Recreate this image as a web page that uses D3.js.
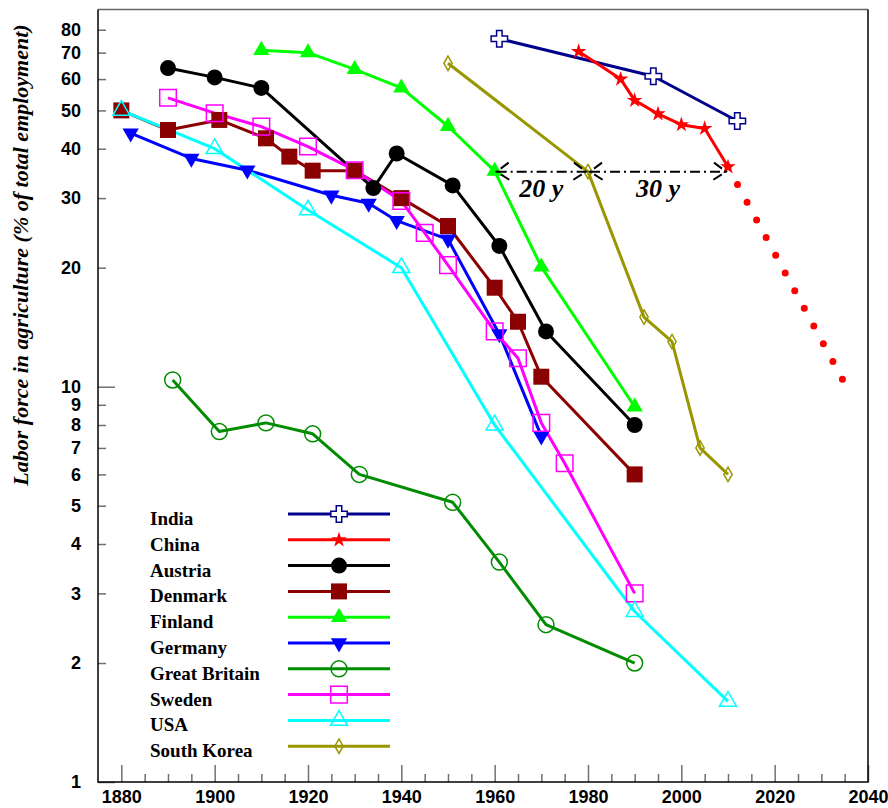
<!DOCTYPE html>
<html>
<head>
<meta charset="utf-8">
<script src="https://d3js.org/d3.v7.min.js"></script>
<style>
  html, body { margin: 0; padding: 0; background: #fff; }
  svg { display: block; font-family: "Liberation Serif", "Times New Roman", serif; }
</style>
</head>
<body>
<svg id="chart" width="888" height="808"></svg>
<script>
// values (year, % of total employment)
const indiaYears = [1961, 1994, 2012];
const indiaValues = [75.9, 61, 47];
const chinaYears = [1978, 1987, 1990, 1995, 2000, 2005, 2010];
const chinaValues = [70.5, 60, 53, 49, 46, 45, 36];
const chinaProjYears = [2010, 2035];
const chinaProjValues = [36, 10.2];
const austriaYears = [1890, 1900, 1910, 1934, 1939, 1951, 1961, 1971, 1990];
const austriaValues = [64, 60.6, 57, 31.8, 38.9, 32.3, 22.7, 13.8, 8];
const denmarkYears = [1880, 1890, 1901, 1911, 1916, 1921, 1930, 1940, 1950, 1960, 1965, 1970, 1990];
const denmarkValues = [50, 44.6, 47.3, 42.5, 38.2, 35.2, 35.2, 30, 25.5, 17.8, 14.6, 10.6, 6];
const finlandYears = [1910, 1920, 1930, 1940, 1950, 1960, 1970, 1990];
const finlandValues = [71, 70, 63.5, 57, 45.6, 35.1, 20.1, 8.9];
const germanyYears = [1882, 1895, 1907, 1925, 1933, 1939, 1950, 1961, 1970];
const germanyValues = [43.8, 37.8, 35.3, 30.5, 29.1, 26.3, 23.6, 13.6, 7.5];
const britainYears = [1891, 1901, 1911, 1921, 1931, 1951, 1961, 1971, 1990];
const britainValues = [10.4, 7.7, 8.1, 7.6, 6, 5.1, 3.6, 2.5, 2];
const swedenYears = [1890, 1900, 1910, 1920, 1930, 1940, 1945, 1950, 1960, 1965, 1970, 1975, 1990];
const swedenValues = [53.8, 49.2, 45.5, 40.5, 35.3, 29.5, 24.5, 20.3, 13.8, 11.8, 8.1, 6.4, 3];
const usaYears = [1880, 1900, 1920, 1940, 1960, 1990, 2010];
const usaValues = [50, 40, 28, 20, 8, 2.7, 1.6];
const koreaYears = [1950, 1980, 1992, 1998, 2004, 2010];
const koreaValues = [65.8, 35, 15, 13, 7, 6];

// catch-up gaps marked on the chart
const gapStarts = [1960, 1980];
const gapEnds = [1980, 2010];
const gapLabels = ['20 y', '30 y'];
const gapLevel = 35;

const yTickValues = [1, 2, 3, 4, 5, 6, 7, 8, 9, 10, 20, 30, 40, 50, 60, 70, 80];
const xMajorTicks = [1880, 1900, 1920, 1940, 1960, 1980, 2000, 2020, 2040];
const xMinorTicks = d3.range(1880, 2041, 5);

const series = [
  { name: 'India', years: indiaYears, values: indiaValues, color: '#00008b', symbol: d3.symbolCross, size: 150, filled: false, rot: 0 },
  { name: 'China', years: chinaYears, values: chinaValues, color: '#ff0000', symbol: d3.symbolStar, size: 75, filled: true, rot: 0 },
  { name: 'Austria', years: austriaYears, values: austriaValues, color: '#000000', symbol: d3.symbolCircle, size: 200, filled: true, rot: 0 },
  { name: 'Denmark', years: denmarkYears, values: denmarkValues, color: '#8b0000', symbol: d3.symbolSquare, size: 256, filled: true, rot: 0 },
  { name: 'Finland', years: finlandYears, values: finlandValues, color: '#00ff00', symbol: d3.symbolTriangle, size: 115, filled: true, rot: 0 },
  { name: 'Germany', years: germanyYears, values: germanyValues, color: '#0000ff', symbol: d3.symbolTriangle, size: 115, filled: true, rot: 180 },
  { name: 'Great Britain', years: britainYears, values: britainValues, color: '#008c00', symbol: d3.symbolCircle, size: 200, filled: false, rot: 0 },
  { name: 'Sweden', years: swedenYears, values: swedenValues, color: '#ff00ff', symbol: d3.symbolSquare, size: 275, filled: false, rot: 0 },
  { name: 'USA', years: usaYears, values: usaValues, color: '#00ffff', symbol: d3.symbolTriangle, size: 125, filled: false, rot: 0 },
  { name: 'South Korea', years: koreaYears, values: koreaValues, color: '#9a9600', symbol: d3.symbolDiamond, size: 60, filled: false, rot: 0 }
];

const svg = d3.select('#chart');
const plotLeft = 98, plotRight = 868, plotTop = 9.5, plotBottom = 782;

const x = d3.scaleLinear().domain([1875, 2040]).range([plotLeft, plotRight]);
const y = d3.scaleLog().domain([1, 90]).range([plotBottom, plotTop]);

// axes: ticks point inward
const yAxis = svg.append('g')
  .attr('transform', `translate(${plotLeft},0)`)
  .call(d3.axisLeft(y).tickValues(yTickValues).tickSize(-8).tickPadding(17).tickFormat(d3.format('d')));
yAxis.select('.domain').remove();
yAxis.selectAll('.tick line')
  .attr('x2', d => (d === 10 || d === 1) ? 17 : 8)
  .attr('stroke', '#707070').attr('stroke-width', 1.5);
yAxis.selectAll('.tick text')
  .attr('fill', '#000').style('font-size', '18px').style('font-weight', 'bold');

const xAxis = svg.append('g')
  .attr('transform', `translate(0,${plotBottom})`)
  .call(d3.axisBottom(x).tickValues(xMinorTicks).tickSize(-8).tickPadding(8)
    .tickFormat(d => xMajorTicks.includes(d) ? d : ''));
xAxis.select('.domain').remove();
xAxis.selectAll('.tick line')
  .attr('y2', d => xMajorTicks.includes(d) ? -17 : -8)
  .attr('stroke', '#707070').attr('stroke-width', 1.5);
xAxis.selectAll('.tick text')
  .attr('fill', '#000').style('font-size', '18px').style('font-weight', 'bold');

// frame
svg.append('line').attr('x1', plotLeft).attr('x2', plotRight).attr('y1', plotTop).attr('y2', plotTop)
  .attr('stroke', '#666').attr('stroke-width', 1.5);
svg.append('path')
  .attr('d', `M${plotLeft},${plotTop}V${plotBottom}H${plotRight}V${plotTop}`)
  .attr('fill', 'none').attr('stroke', '#000').attr('stroke-width', 1.5);

// y title
svg.append('text')
  .attr('transform', `translate(28,255) rotate(-90)`)
  .attr('text-anchor', 'middle')
  .style('font-family', '"Liberation Serif", serif')
  .style('font-size', '22px').style('font-style', 'italic').style('font-weight', 'bold')
  .text('Labor force in agriculture (% of total employment)');

const line = d3.line().x(d => x(d[0])).y(d => y(d[1]));

function symbolPath(s) {
  return d3.symbol().type(s.symbol).size(s.size)();
}

function drawMarker(g, s, px, py) {
  g.append('path')
    .attr('d', symbolPath(s))
    .attr('transform', `translate(${px},${py}) rotate(${s.rot})`)
    .attr('fill', s.filled ? s.color : (s.symbol === d3.symbolCross ? '#fff' : 'none'))
    .attr('stroke', s.color)
    .attr('stroke-width', s.filled ? 0 : 1.5);
}

// China projection (dotted)
svg.append('path')
  .datum(d3.zip(chinaProjYears, chinaProjValues))
  .attr('d', line)
  .attr('fill', 'none')
  .attr('stroke', '#ff0000')
  .attr('stroke-width', 7)
  .attr('stroke-linecap', 'round')
  .attr('stroke-dasharray', '0 20.1');

const plot = svg.append('g');
series.forEach(s => {
  const pts = d3.zip(s.years, s.values);
  plot.append('path')
    .datum(pts)
    .attr('d', line)
    .attr('fill', 'none')
    .attr('stroke', s.color)
    .attr('stroke-width', 3)
    .attr('stroke-linejoin', 'round');
});
series.forEach(s => {
  const g = plot.append('g');
  d3.zip(s.years, s.values).forEach(p => drawMarker(g, s, x(p[0]), y(p[1])));
});

// gap arrows (dash-dot, open heads)
const dashDot = '10 4 2 4';
const gy = y(gapLevel);
gapStarts.forEach((g0, i) => {
  const x0 = x(g0) + 2, x1 = x(gapEnds[i]) - 2;
  const a = svg.append('g')
    .attr('fill', 'none').attr('stroke', '#000').attr('stroke-width', 2)
    .attr('stroke-dasharray', dashDot);
  a.append('line').attr('x1', x0).attr('x2', x1).attr('y1', gy).attr('y2', gy);
  a.append('path').attr('d', `M${x0 + 12},${gy - 9}L${x0},${gy}L${x0 + 14},${gy + 9}`);
  a.append('path').attr('d', `M${x1 - 12},${gy - 9}L${x1},${gy}L${x1 - 14},${gy + 9}`);
  svg.append('text')
    .attr('x', (x(g0) + x(gapEnds[i])) / 2)
    .attr('y', gy + 25)
    .attr('text-anchor', 'middle')
    .style('font-size', '26px').style('font-style', 'italic').style('font-weight', 'bold')
    .text(gapLabels[i]);
});

// legend
const legend = svg.append('g');
const legTop = 514, legStep = 25.8;
series.forEach((s, i) => {
  const ly = legTop + i * legStep;
  legend.append('text')
    .attr('x', 150).attr('y', ly + 11)
    .style('font-size', '19px').style('font-weight', 'bold')
    .text(s.name);
  legend.append('line')
    .attr('x1', 288).attr('x2', 390).attr('y1', ly).attr('y2', ly)
    .attr('stroke', s.color).attr('stroke-width', 3);
  drawMarker(legend, s, 339, ly);
});
</script>
</body>
</html>
